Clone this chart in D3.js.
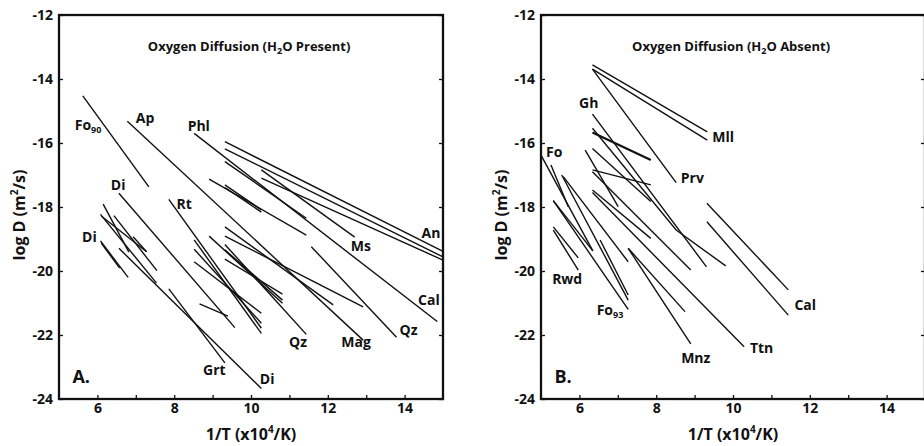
<!DOCTYPE html>
<html>
<head>
<meta charset="utf-8">
<script src="https://cdn.jsdelivr.net/npm/d3@7"></script>
<style>
  body { margin: 0; background: #fff; }
  text { font-family: "Open Sans", sans-serif; font-weight: bold; fill: #111; }
</style>
</head>
<body>
<svg id="chart" width="924" height="446"></svg>
<script>
// tick values
const xTickValues = [6, 7, 8, 9, 10, 11, 12, 13, 14];
const yTickValues = [-12, -14, -16, -18, -20, -22, -24];

// Panel A: H2O present, each line is [x (1/T), logD] points
const presentLines = [
  [[5.62, -14.53], [7.34, -17.37]],   // Fo90
  [[6.78, -15.32], [12.92, -22.16]],  // Ap
  [[8.52, -15.70], [14.85, -21.58]],  // Phl
  [[9.32, -15.96], [15.0, -19.39]],   // An
  [[9.32, -16.18], [15.0, -19.56]],
  [[10.27, -17.10], [15.0, -19.66]],
  [[10.27, -16.84], [12.70, -18.94]], // Ms
  [[9.32, -16.58], [11.44, -18.35]],
  [[8.91, -17.13], [11.44, -18.88]],
  [[9.32, -17.31], [10.27, -18.09]],
  [[9.32, -17.39], [10.27, -18.16]],
  [[6.56, -17.57], [9.58, -21.77]],   // Di
  [[7.86, -17.76], [10.27, -21.79]],  // Rt
  [[8.52, -19.03], [10.27, -21.95]],
  [[8.52, -19.32], [10.27, -21.63]],
  [[8.52, -19.71], [10.27, -21.32]],
  [[8.66, -21.03], [9.40, -21.41]],
  [[9.32, -18.62], [12.14, -21.06]],
  [[9.32, -18.91], [12.92, -21.12]],
  [[9.32, -19.17], [11.44, -21.98]],  // Qz
  [[8.91, -18.91], [10.82, -21.01]],
  [[9.32, -19.34], [10.82, -20.91]],
  [[9.32, -19.63], [10.82, -20.72]],
  [[11.57, -19.24], [13.79, -22.07]], // Qz
  [[6.08, -19.06], [6.80, -20.20]],   // Di
  [[6.10, -19.13], [6.58, -19.91]],
  [[6.15, -17.91], [6.82, -19.41]],
  [[6.08, -18.23], [7.54, -20.38]],
  [[6.10, -18.28], [7.28, -19.40]],
  [[6.43, -18.27], [7.55, -19.99]],
  [[6.93, -18.93], [7.28, -19.40]],
  [[6.56, -19.29], [10.27, -23.67]],  // Di
  [[7.86, -20.56], [9.32, -22.87]]    // Grt
];
const presentLabels = [
  {text: "Fo", sub: "90", x: 5.41, y: -15.59},
  {text: "Ap", x: 7.00, y: -15.37},
  {text: "Phl", x: 8.35, y: -15.62},
  {text: "Di", x: 6.35, y: -17.47},
  {text: "Rt", x: 8.06, y: -18.06},
  {text: "Di", x: 5.60, y: -19.10},
  {text: "An", x: 14.44, y: -18.98},
  {text: "Ms", x: 12.60, y: -19.37},
  {text: "Cal", x: 14.35, y: -21.06},
  {text: "Qz", x: 13.87, y: -22.00},
  {text: "Mag", x: 12.35, y: -22.37},
  {text: "Qz", x: 10.99, y: -22.37},
  {text: "Grt", x: 8.75, y: -23.25},
  {text: "Di", x: 10.23, y: -23.53}
];

// Panel B: H2O absent
const absentLines = [
  [[6.34, -13.56], [9.33, -15.65]],   // Mll
  [[6.34, -13.69], [9.33, -15.91]],
  [[6.34, -13.69], [8.52, -17.24]],   // Prv
  [[6.34, -15.10], [9.31, -19.87]],   // Gh
  [[6.34, -15.54], [8.52, -18.72], [9.81, -19.84]],
  [[6.34, -15.67], [7.86, -16.53]],
  [[6.34, -16.17], [7.86, -17.83]],
  [[6.34, -16.84], [7.86, -17.31]],
  [[6.15, -16.22], [7.01, -17.99]],
  [[6.34, -16.90], [8.90, -19.97]],
  [[6.34, -17.47], [7.86, -18.98]],
  [[6.34, -17.55], [10.29, -22.37]],  // Ttn
  [[7.27, -19.29], [8.90, -22.28]],   // Mnz
  [[7.27, -19.29], [8.75, -21.27]],
  [[9.32, -17.88], [11.44, -20.59]],  // Cal
  [[9.32, -18.46], [11.44, -21.38]],
  [[5.00, -16.38], [6.35, -19.37]],   // Fo
  [[5.26, -16.69], [5.71, -17.99]],
  [[5.32, -17.80], [6.35, -19.37]],
  [[5.54, -17.00], [7.27, -20.91]],
  [[5.58, -17.05], [7.27, -19.71]],
  [[5.32, -17.80], [7.27, -21.20]],   // Fo93
  [[6.54, -19.03], [7.27, -20.75]],
  [[5.32, -18.62], [5.97, -19.59]],   // Rwd
  [[5.32, -18.72], [5.97, -19.97]]
];
const absentBold = [5];
const absentLabels = [
  {text: "Gh", x: 5.99, y: -14.92},
  {text: "Fo", x: 5.13, y: -16.43},
  {text: "Mll", x: 9.46, y: -15.98},
  {text: "Prv", x: 8.64, y: -17.26},
  {text: "Rwd", x: 5.29, y: -20.41},
  {text: "Fo", sub: "93", x: 6.45, y: -21.38},
  {text: "Cal", x: 11.60, y: -21.22},
  {text: "Ttn", x: 10.44, y: -22.55},
  {text: "Mnz", x: 8.65, y: -22.87}
];

const svg = d3.select("#chart");
const plotTop = 15, plotBottom = 399, plotW = 384;

function drawPanel(left, title, panelTag, lines, labels, boldIdx) {
  const x = d3.scaleLinear().domain([5, 15]).range([left, left + plotW]);
  const y = d3.scaleLinear().domain([-24, -12]).range([plotBottom, plotTop]);
  const g = svg.append("g");

  // lines
  const line = d3.line().x(d => x(d[0])).y(d => y(d[1]));
  g.selectAll("path.seg")
    .data(lines)
    .enter()
    .append("path")
      .attr("class", "seg")
      .attr("d", line)
      .attr("fill", "none")
      .attr("stroke", "#111")
      .attr("stroke-width", (d, i) => boldIdx.includes(i) ? 2.2 : 1.4);

  // axes
  const xAxis = g.append("g")
    .attr("transform", "translate(0," + plotBottom + ")")
    .call(d3.axisBottom(x).tickValues(xTickValues).tickSize(-4).tickPadding(4)
      .tickFormat(d => d % 2 === 0 ? d : ""));
  const yAxis = g.append("g")
    .attr("transform", "translate(" + left + ",0)")
    .call(d3.axisLeft(y).tickValues(yTickValues).tickSize(-4).tickPadding(6)
      .tickFormat(d => String(d)));
  const yAxisR = g.append("g")
    .attr("transform", "translate(" + (left + plotW) + ",0)")
    .call(d3.axisRight(y).tickValues(yTickValues).tickSize(-4).tickFormat(""));
  [xAxis, yAxis, yAxisR].forEach(a => {
    a.select(".domain").remove();
    a.selectAll("line").attr("stroke", "#111").attr("stroke-width", 1.3);
    a.selectAll("text").style("font-size", "14px").attr("fill", "#111");
  });

  // frame
  g.append("rect")
    .attr("x", left).attr("y", plotTop)
    .attr("width", plotW).attr("height", plotBottom - plotTop)
    .attr("fill", "none").attr("stroke", "#111").attr("stroke-width", 2.3);

  // title
  const t = g.append("text")
    .attr("x", x(9.95)).attr("y", y(-13.12))
    .attr("text-anchor", "middle")
    .style("font-size", "13px");
  t.append("tspan").text("Oxygen Diffusion (H");
  t.append("tspan").text("2").style("font-size", "9px").attr("dy", 3);
  t.append("tspan").text("O " + title + ")").attr("dy", -3);

  // mineral labels
  labels.forEach(l => {
    const txt = g.append("text")
      .attr("x", x(l.x)).attr("y", y(l.y))
      .style("font-size", "14px");
    txt.append("tspan").text(l.text);
    if (l.sub) txt.append("tspan").text(l.sub).style("font-size", "9px").attr("dy", 3);
  });

  g.append("text")
    .attr("x", x(5.35)).attr("y", y(-23.51))
    .style("font-size", "18px")
    .text(panelTag);

  // axis titles
  const xt = g.append("text")
    .attr("x", x(10)).attr("y", 440)
    .attr("text-anchor", "middle")
    .style("font-size", "16px");
  xt.append("tspan").text("1/T (x10");
  xt.append("tspan").text("4").style("font-size", "10px").attr("dy", -7);
  xt.append("tspan").text("/K)").attr("dy", 7);

  const yt = g.append("text")
    .attr("transform", "translate(" + (left - 34) + "," + y(-18.25) + ") rotate(-90)")
    .attr("text-anchor", "middle")
    .style("font-size", "16px");
  yt.append("tspan").text("log D (m");
  yt.append("tspan").text("2").style("font-size", "10px").attr("dy", -7);
  yt.append("tspan").text("/s)").attr("dy", 7);
}

drawPanel(59, "Present", "A.", presentLines, presentLabels, []);
drawPanel(541, "Absent", "B.", absentLines, absentLabels, absentBold);
</script>
</body>
</html>
